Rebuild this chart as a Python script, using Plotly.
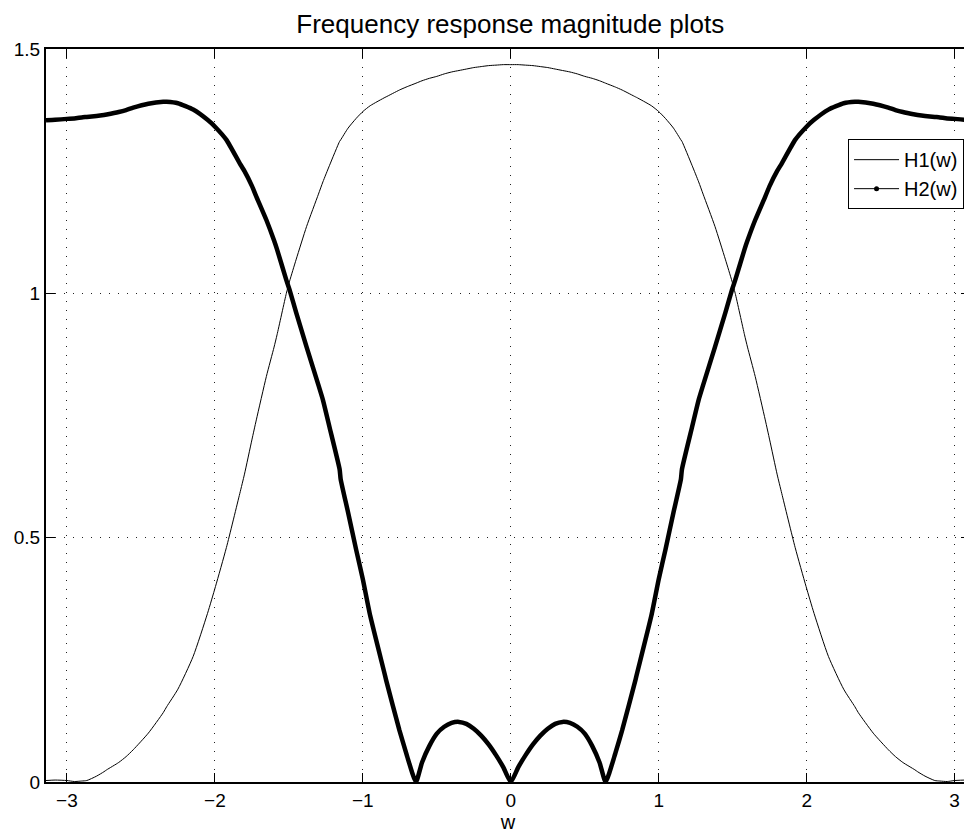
import plotly.graph_objects as go

# frequency grid (rad/sample)
w = [-3.1416, -3.08, -3.0, -2.95, -2.9, -2.866, -2.8, -2.75, -2.731, -2.65, -2.6, -2.552, -2.45,
     -2.349, -2.326, -2.25, -2.147, -2.05, -1.996, -1.922, -1.832, -1.8, -1.75, -1.72, -1.652,
     -1.6, -1.58, -1.517, -1.495, -1.45, -1.38, -1.3, -1.27, -1.225, -1.157, -1.15, -1.1, -1.045,
     -1.0, -0.95, -0.85, -0.843, -0.753, -0.708, -0.7, -0.641, -0.6, -0.55, -0.5, -0.45, -0.4,
     -0.35, -0.3, -0.25, -0.2, -0.15, -0.1, -0.05, 0.0,
     0.05, 0.1, 0.15, 0.2, 0.25, 0.3, 0.35, 0.4, 0.45, 0.5, 0.55, 0.6, 0.641, 0.7, 0.708, 0.753,
     0.843, 0.85, 0.95, 1.0, 1.045, 1.1, 1.15, 1.157, 1.225, 1.27, 1.3, 1.38, 1.45, 1.495, 1.517,
     1.58, 1.6, 1.652, 1.72, 1.75, 1.8, 1.832, 1.922, 1.996, 2.05, 2.147, 2.25, 2.326, 2.349,
     2.45, 2.552, 2.6, 2.65, 2.731, 2.75, 2.8, 2.866, 2.9, 2.95, 3.0, 3.08, 3.1416]

H1 = [0.003, 0.004, 0.003, 0.001, 0.002, 0.003, 0.012, 0.021, 0.025, 0.040, 0.052, 0.066, 0.100,
      0.142, 0.154, 0.190, 0.257, 0.345, 0.400, 0.480, 0.590, 0.630, 0.700, 0.741, 0.830,
      0.890, 0.915, 1.000, 1.025, 1.070, 1.137, 1.203, 1.228, 1.262, 1.311, 1.314, 1.338, 1.358,
      1.372, 1.384, 1.401, 1.402, 1.416, 1.422, 1.423, 1.430, 1.435, 1.440, 1.444, 1.449, 1.453,
      1.456, 1.459, 1.462, 1.464, 1.466, 1.467, 1.468, 1.468,
      1.468, 1.467, 1.466, 1.464, 1.462, 1.459, 1.456, 1.453, 1.449, 1.444, 1.440, 1.435, 1.430,
      1.423, 1.422, 1.416, 1.402, 1.401, 1.384, 1.372, 1.358, 1.338, 1.314, 1.311, 1.262, 1.228,
      1.203, 1.137, 1.070, 1.025, 1.000, 0.915, 0.890, 0.830, 0.741, 0.700, 0.630, 0.590, 0.480,
      0.400, 0.345, 0.257, 0.190, 0.154, 0.142, 0.100, 0.066, 0.052, 0.040, 0.025, 0.021, 0.012,
      0.003, 0.002, 0.001, 0.003, 0.004, 0.003]

H2 = [1.354, 1.355, 1.357, 1.358, 1.360, 1.361, 1.363, 1.365, 1.366, 1.371, 1.375, 1.380, 1.388,
      1.392, 1.392, 1.389, 1.376, 1.355, 1.340, 1.314, 1.266, 1.250, 1.220, 1.198, 1.150,
      1.108, 1.090, 1.027, 1.007, 0.960, 0.890, 0.812, 0.782, 0.726, 0.640, 0.620, 0.552, 0.475,
      0.415, 0.340, 0.218, 0.209, 0.106, 0.060, 0.052, 0.0, 0.040, 0.074, 0.099, 0.113, 0.121,
      0.123, 0.119, 0.109, 0.095, 0.077, 0.055, 0.030, 0.0,
      0.030, 0.055, 0.077, 0.095, 0.109, 0.119, 0.123, 0.121, 0.113, 0.099, 0.074, 0.040, 0.0,
      0.052, 0.060, 0.106, 0.209, 0.218, 0.340, 0.415, 0.475, 0.552, 0.620, 0.640, 0.726, 0.782,
      0.812, 0.890, 0.960, 1.007, 1.027, 1.090, 1.108, 1.150, 1.198, 1.220, 1.250, 1.266, 1.314,
      1.340, 1.355, 1.376, 1.389, 1.392, 1.392, 1.388, 1.380, 1.375, 1.371, 1.366, 1.365, 1.363,
      1.361, 1.360, 1.358, 1.357, 1.355, 1.354]

x_ticks = [-3, -2, -1, 0, 1, 2, 3]
x_tick_labels = ["\u22123", "\u22122", "\u22121", "0", "1", "2", "3"]
y_ticks = [0, 0.5, 1, 1.5]
y_tick_labels = ["0", "0.5", "1", "1.5"]

FONT = "Liberation Sans, Arial, Helvetica, sans-serif"

fig = go.Figure()
fig.add_trace(go.Scatter(x=w, y=H1, mode="lines", name="H1(w)",
                         line=dict(color="black", width=1, shape="spline", smoothing=0.6)))
fig.add_trace(go.Scatter(x=w, y=H2, mode="lines", name="H2(w)", showlegend=False,
                         line=dict(color="black", width=4.5, shape="spline", smoothing=0.5)))
# legend-only sample for H2 (thin line with point marker)
fig.add_trace(go.Scatter(x=[None], y=[None], mode="lines+markers", name="H2(w)",
                         line=dict(color="black", width=1),
                         marker=dict(color="black", size=5)))

axis_common = dict(
    showline=True, linecolor="black", linewidth=2, mirror="ticks",
    ticks="inside", ticklen=9, tickwidth=1, tickcolor="black",
    showgrid=True, gridcolor="#222222", gridwidth=1, griddash="1px,8px",
    zeroline=False, tickfont=dict(family=FONT, size=19, color="black"),
)

fig.update_xaxes(range=[-3.1416, 3.104], tickvals=x_ticks, ticktext=x_tick_labels,
                 title=dict(text="w", font=dict(family=FONT, size=20, color="black"), standoff=4),
                 **axis_common)
fig.update_yaxes(range=[0, 1.5], tickvals=y_ticks, ticktext=y_tick_labels, **axis_common)

# the page body has an 8px default margin, so the figure is 8px smaller each way
fig.update_layout(
    width=964, height=829,
    margin=dict(l=38, r=0, t=41, b=55),
    paper_bgcolor="white", plot_bgcolor="white",
    title=dict(text="Frequency response magnitude plots", x=0.521, xanchor="center",
               y=1 - 16 / 829, yanchor="middle", yref="container",
               font=dict(family=FONT, size=26, color="black")),
    legend=dict(x=0.868, y=0.877, xanchor="left", yanchor="top",
                bordercolor="black", borderwidth=1, bgcolor="white",
                font=dict(family=FONT, size=20, color="black"),
                tracegroupgap=0, itemwidth=45),
    showlegend=True,
)

fig.write_html("out.html")
